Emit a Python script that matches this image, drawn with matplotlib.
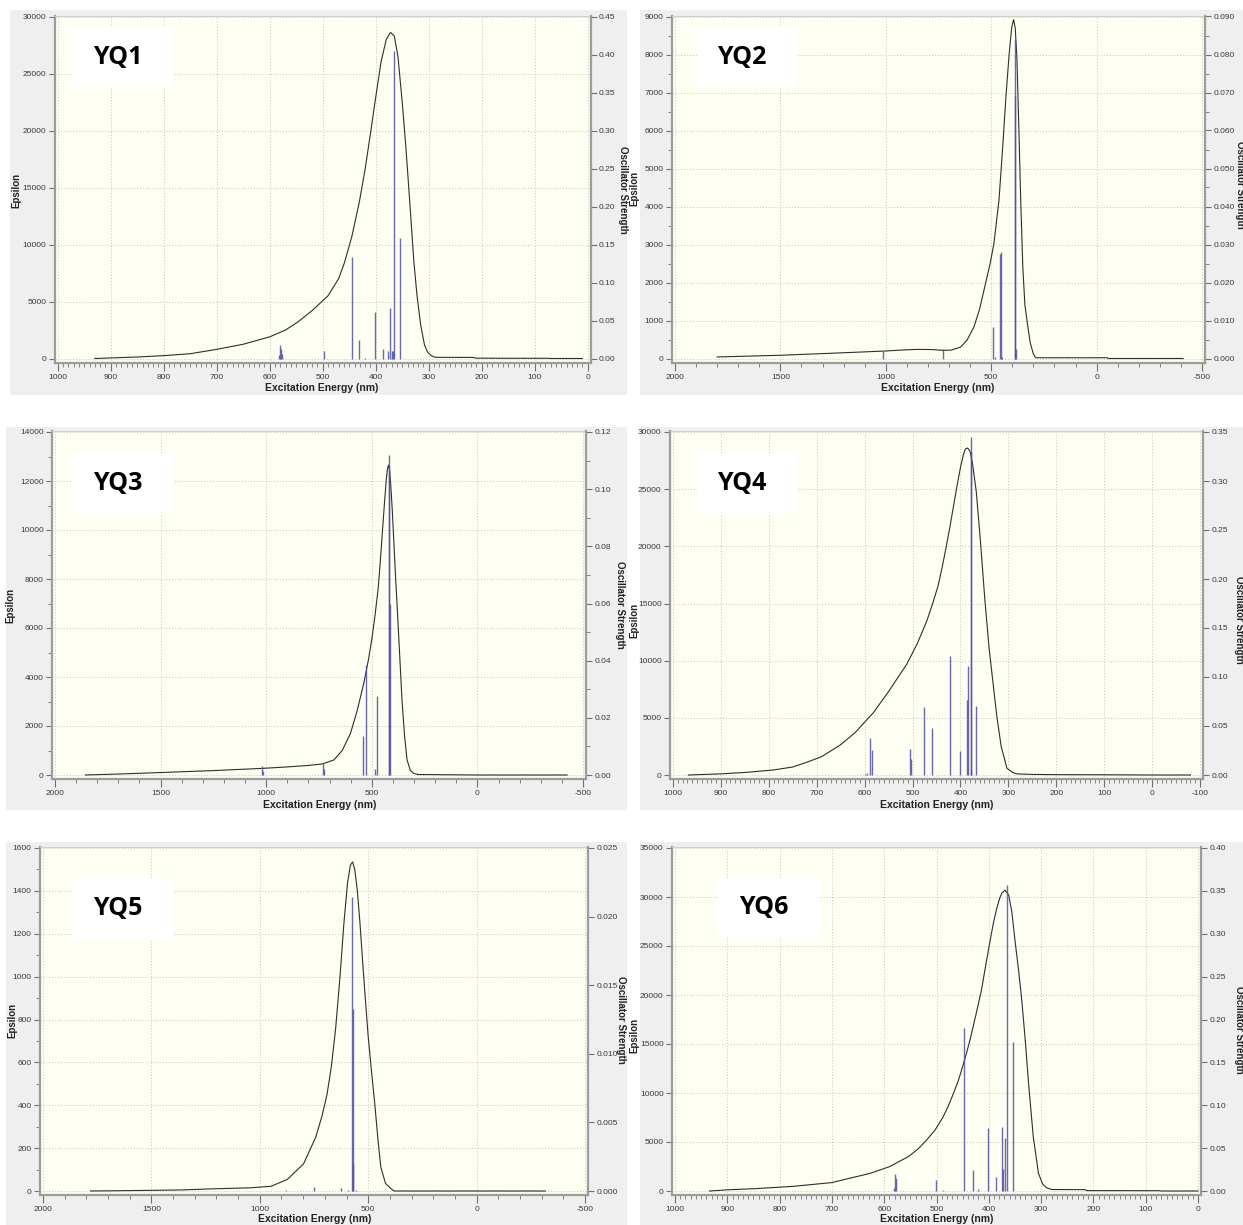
import matplotlib
matplotlib.use('Agg')
import matplotlib.pyplot as plt
from matplotlib.patches import Rectangle
from matplotlib.ticker import MultipleLocator, FormatStrFormatter, NullLocator

plt.rcParams['font.family'] = ['Liberation Sans', 'DejaVu Sans']

W, H = 1243, 1225

# ---- values ----
# YQ1
yq1_curve_nm = [930, 900, 850, 800, 750, 700, 679, 650, 600, 570, 547, 520, 490, 470, 459, 445, 431, 420, 410,
                400, 390, 380, 372, 365, 358, 350, 343, 336, 328, 322, 315, 308, 302, 295, 289, 280, 250,
                216, 210, 150, 75, 70, 10]
yq1_curve_eps = [0, 50, 130, 250, 420, 800, 990, 1250, 1900, 2500, 3200, 4200, 5500, 7000, 8400, 10700, 13700,
                 16600, 19700, 22900, 26000, 28000, 28600, 28300, 26500, 22500, 18500, 13900, 8500, 5500,
                 2900, 1200, 550, 250, 115, 100, 100, 90, 30, 20, 20, 0, 0]
yq1_stick_nm = [582, 580, 578, 576, 497.5, 445, 431.5, 421, 401, 387, 376, 372.5, 369.9, 368, 365.5, 354]
yq1_stick_f = [0.004, 0.018, 0.012, 0.006, 0.010, 0.133, 0.024, 0.001, 0.061, 0.012, 0.010, 0.066, 0.010,
               0.010, 0.405, 0.158]

# YQ2
yq2_curve_nm = [1800, 1500, 1250, 1010, 900, 850, 780, 730, 690, 645, 615, 582, 555, 530, 505, 487, 475,
                463, 445, 430, 415, 403, 394, 386, 378, 370, 360, 350, 340, 326, 315, 300, 289, 200, 0,
                -50, -55, -410]
yq2_curve_eps = [40, 85, 140, 195, 230, 240, 235, 215, 220, 300, 480, 830, 1300, 1900, 2500, 3030, 3600,
                 4170, 5600, 6900, 8000, 8700, 8920, 8700, 7900, 6300, 4170, 2400, 1400, 830, 420, 120,
                 20, 20, 20, 20, 0, 0]
yq2_stick_nm = [1013, 727, 492, 482, 460, 455, 450, 386, 385, 384]
yq2_stick_f = [0.0021, 0.0024, 0.0084, 0.0005, 0.0275, 0.028, 0.0005, 0.084, 0.069, 0.0025]

# YQ3
yq3_curve_nm = [1856, 1700, 1500, 1250, 1012, 900, 800, 735, 680, 640, 601, 570, 538, 515, 499, 485, 470,
                460, 450, 440, 432, 426, 421, 416, 410, 403, 395, 387, 380, 368, 357, 345, 333, 318, 301,
                280, 0, -425]
yq3_curve_eps = [0, 40, 100, 180, 273, 330, 390, 450, 612, 1000, 1700, 2600, 3740, 4750, 5600, 6500, 7600,
                 8700, 9900, 11100, 12000, 12500, 12650, 12450, 11800, 10800, 9400, 8000, 6900, 4900, 3060,
                 1600, 612, 200, 60, 20, 0, 0]
yq3_stick_nm = [1019, 1015, 731, 727, 543, 527, 483, 475, 420, 418, 416]
yq3_stick_f = [0.003, 0.0015, 0.0041, 0.002, 0.0136, 0.0385, 0.002, 0.0277, 0.112, 0.108, 0.060]

# YQ4
yq4_curve_nm = [968, 900, 850, 791, 750, 721, 690, 651, 620, 582, 550, 512, 490, 470, 458, 447, 438, 430,
                422, 415, 408, 400, 394, 390, 385, 380, 375, 367, 358, 349, 340, 330, 324, 315, 303, 290,
                282, 250, 200, 100, 0, -80]
yq4_curve_eps = [0, 100, 220, 437, 700, 1110, 1600, 2620, 3700, 5440, 7300, 9700, 11500, 13500, 15000, 16500,
                 18200, 19900, 21700, 23400, 25100, 26900, 28000, 28500, 28600, 28300, 27300, 24800, 20300,
                 15300, 11000, 7300, 5100, 2500, 590, 200, 100, 50, 30, 20, 0, 0]
yq4_stick_nm = [600, 596, 589, 584, 505, 503, 477, 460, 422, 401, 387, 383.5, 379, 378, 377, 367]
yq4_stick_f = [0.001, 0.002, 0.0374, 0.0255, 0.0265, 0.016, 0.069, 0.048, 0.1214, 0.0248, 0.0765, 0.1115,
               0.345, 0.33, 0.004, 0.0704]

# YQ5
yq5_curve_nm = [1781, 1500, 1360, 1220, 1041, 948, 873, 798, 742, 713, 690, 670, 650, 630, 612, 595, 582,
                572, 562, 550, 538, 525, 512, 500, 485, 470, 455, 442, 420, 395, 380, -317]
yq5_curve_eps = [0, 3, 5, 10, 15, 22, 54, 127, 251, 350, 450, 580, 760, 1000, 1250, 1440, 1520, 1535, 1500,
                 1400, 1250, 1060, 880, 720, 560, 410, 240, 112, 35, 11, 0, 0]
yq5_stick_nm = [878, 751, 625, 595, 573, 572, 571, 555]
yq5_stick_f = [0.0001, 0.0003, 0.0002, 0.0001, 0.0214, 0.0133, 0.0020, 0.0001]

# YQ6
yq6_curve_nm = [934, 900, 846, 773, 700, 627, 590, 554, 535, 519, 503, 488, 478, 468, 458, 450, 443, 436,
                425, 414, 406, 398, 391, 385, 379, 375, 369, 362, 356, 350, 343, 337, 330, 324, 315, 305,
                297, 290, 280, 217, 212, 75, 70, 0]
yq6_curve_eps = [0, 120, 240, 480, 860, 1800, 2480, 3500, 4300, 5200, 6200, 7500, 8600, 9900, 11300, 12700,
                 14000, 15400, 17900, 20500, 23000, 25400, 27400, 28800, 29900, 30400, 30700, 30200, 28500,
                 25600, 22500, 19500, 15200, 11000, 5540, 1800, 700, 340, 150, 140, 40, 30, 0, 0]
yq6_stick_nm = [581, 579, 577, 500, 488, 447, 431, 421, 402, 387, 375, 372, 369, 365, 354]
yq6_stick_f = [0.004, 0.0197, 0.0146, 0.0126, 0.001, 0.190, 0.025, 0.002, 0.073, 0.0158, 0.0749, 0.0256,
               0.062, 0.357, 0.174]

names = ['YQ1', 'YQ2', 'YQ3', 'YQ4', 'YQ5', 'YQ6']
curves_nm = [yq1_curve_nm, yq2_curve_nm, yq3_curve_nm, yq4_curve_nm, yq5_curve_nm, yq6_curve_nm]
curves_eps = [yq1_curve_eps, yq2_curve_eps, yq3_curve_eps, yq4_curve_eps, yq5_curve_eps, yq6_curve_eps]
sticks_nm = [yq1_stick_nm, yq2_stick_nm, yq3_stick_nm, yq4_stick_nm, yq5_stick_nm, yq6_stick_nm]
sticks_f = [yq1_stick_f, yq2_stick_f, yq3_stick_f, yq4_stick_f, yq5_stick_f, yq6_stick_f]

# axis ranges and ticks per panel
x_ranges = [(1000, 0), (2000, -500), (2000, -500), (1000, -100), (2000, -500), (1000, 0)]
x_major = [100, 500, 500, 100, 500, 100]
x_minor = [10, 100, 100, 10, 100, 10]
eps_max = [30000, 9000, 14000, 30000, 1600, 35000]
eps_major = [5000, 1000, 2000, 5000, 200, 5000]
eps_minor = [None, 500, 1000, None, 100, None]
f_max = [0.45, 0.09, 0.12, 0.35, 0.025, 0.40]
f_major = [0.05, 0.01, 0.02, 0.05, 0.005, 0.05]
f_minor = [None, 0.005, 0.01, None, None, None]
f_fmt = ['%.2f', '%.3f', '%.2f', '%.2f', '%.3f', '%.2f']

# ---- layout in pixels of the output image ----
x_px = [(57.7, 587.7), (675, 1202), (55, 583), (673, 1200), (43, 585), (675, 1198)]
y_px = [(358.5, 16.5), (358.5, 16.5), (775, 432), (775, 432), (1191, 848), (1191, 848)]
bg_px = [(10, 10, 627, 395), (640, 10, 1243, 395), (6, 427, 627, 810), (640, 427, 1243, 810),
         (6, 842, 627, 1225), (640, 842, 1243, 1225)]
box_px = [(72, 27, 173, 88), (697, 27, 797, 88), (72, 453, 173, 514), (697, 453, 797, 514),
          (72, 878, 173, 939), (718, 878, 819, 938)]
eps_lbl_px = [(16, 190), (634, 188), (10, 605), (634, 620), (12, 1020), (634, 1035)]
osc_lbl_px = [(623, 190), (1240, 185), (620, 605), (1239, 620), (621, 1020), (1239, 1030)]
xlab_px = [(322, 388), (938, 388), (320, 805), (937, 805), (315, 1219), (937, 1219)]

GRAY_BG = '#efefef'
PLOT_BG = '#fefef2'
SPINE = '#9c9c9c'
TICK_TXT = '#3a3a3a'


def fig_box(x0, y0, x1, y1):
    return [x0 / W, 1 - y1 / H, (x1 - x0) / W, (y1 - y0) / H]


def fig_pt(x, y):
    return x / W, 1 - y / H


fig = plt.figure(figsize=(W / 100, H / 100), dpi=100)
fig.patch.set_facecolor('white')

for i in range(6):
    # gray window background
    bx0, by0, bx1, by1 = bg_px[i]
    fig.patches.append(Rectangle(fig_pt(bx0, by1), (bx1 - bx0) / W, (by1 - by0) / H,
                                 transform=fig.transFigure, facecolor=GRAY_BG, edgecolor='none', zorder=0))

    xa, xb = x_px[i]
    xhi, xlo = x_ranges[i]
    sx = (xb - xa) / (xhi - xlo)
    y0, yt = y_px[i]
    sy = (y0 - yt) / eps_max[i]
    padx, pady_b, pady_t = 3, 4, 1

    ax = fig.add_axes(fig_box(xa - padx, yt - pady_t, xb + padx, y0 + pady_b))
    ax.set_facecolor(PLOT_BG)
    ax.set_zorder(2)
    ax.set_xlim(xhi + padx / sx, xlo - padx / sx)
    ylo, yhi = -pady_b / sy, eps_max[i] + pady_t / sy
    ax.set_ylim(ylo, yhi)

    ax.plot(curves_nm[i], curves_eps[i], color='#2e2e2e', lw=0.8, zorder=3, solid_joinstyle='round')

    ax.xaxis.set_major_locator(MultipleLocator(x_major[i]))
    ax.xaxis.set_minor_locator(MultipleLocator(x_minor[i]))
    ax.yaxis.set_major_locator(MultipleLocator(eps_major[i]))
    if eps_minor[i]:
        ax.yaxis.set_minor_locator(MultipleLocator(eps_minor[i]))
    else:
        ax.yaxis.set_minor_locator(NullLocator())
    ax.yaxis.set_major_formatter(FormatStrFormatter('%d'))
    ax.xaxis.set_major_formatter(FormatStrFormatter('%d'))
    ax.grid(True, which='major', ls=(0, (1, 2)), color='#c6c6b8', lw=0.7, zorder=1)
    ax.set_axisbelow(True)

    ax.tick_params(axis='both', which='major', labelsize=6, labelcolor=TICK_TXT, color='#707070',
                   direction='out', width=0.8)
    ax.tick_params(axis='x', which='major', length=6, pad=2)
    ax.tick_params(axis='x', which='minor', length=3, width=0.6, color='#707070')
    ax.tick_params(axis='y', which='major', length=4, pad=2)
    ax.tick_params(axis='y', which='minor', length=3, width=0.6, color='#707070')

    for side in ['left', 'bottom']:
        ax.spines[side].set_color(SPINE)
        ax.spines[side].set_linewidth(1.6)
    ax.spines['top'].set_color('#cfcfcf')
    ax.spines['top'].set_linewidth(0.8)
    ax.spines['right'].set_visible(False)

    # oscillator strength sticks on the right axis
    ax2 = ax.twinx()
    ratio = f_max[i] / eps_max[i]
    ax2.set_ylim(ylo * ratio, yhi * ratio)
    ax2.vlines(sticks_nm[i], 0, sticks_f[i], color='#5050a4', lw=1.0, alpha=0.85, zorder=4)
    ax2.yaxis.set_major_locator(MultipleLocator(f_major[i]))
    if f_minor[i]:
        ax2.yaxis.set_minor_locator(MultipleLocator(f_minor[i]))
    else:
        ax2.yaxis.set_minor_locator(NullLocator())
    ax2.yaxis.set_major_formatter(FormatStrFormatter(f_fmt[i]))
    ax2.tick_params(axis='y', which='major', labelsize=6, labelcolor=TICK_TXT, color='#707070',
                    direction='out', length=4, width=0.8, pad=2)
    ax2.tick_params(axis='y', which='minor', length=3, width=0.6, color='#707070')
    for side in ['left', 'bottom', 'top']:
        ax2.spines[side].set_visible(False)
    ax2.spines['right'].set_color(SPINE)
    ax2.spines['right'].set_linewidth(1.6)

    # axis titles
    ex, ey = eps_lbl_px[i]
    fig.text(*fig_pt(ex, ey), 'Epsilon', rotation=90, ha='center', va='center', fontsize=7,
             color='#222222', fontweight='bold', zorder=5)
    ox, oy = osc_lbl_px[i]
    fig.text(*fig_pt(ox, oy), 'Oscillator Strength', rotation=-90, ha='center', va='center',
             fontsize=7, color='#222222', fontweight='bold', zorder=5)
    lx, ly = xlab_px[i]
    fig.text(*fig_pt(lx, ly), 'Excitation Energy (nm)', ha='center', va='center', fontsize=7.5,
             color='#222222', fontweight='bold', zorder=5)

    # white name tag
    kx0, ky0, kx1, ky1 = box_px[i]
    tag = fig.add_axes(fig_box(kx0, ky0, kx1, ky1))
    tag.set_zorder(6)
    tag.set_facecolor('white')
    tag.set_xticks([])
    tag.set_yticks([])
    for s in tag.spines.values():
        s.set_visible(False)
    tag.text(0.45, 0.5, names[i], ha='center', va='center', fontsize=18, fontweight='bold',
             family=['Open Sans', 'DejaVu Sans'], color='black', transform=tag.transAxes)

fig.savefig('out.png', dpi=100, facecolor='white')
